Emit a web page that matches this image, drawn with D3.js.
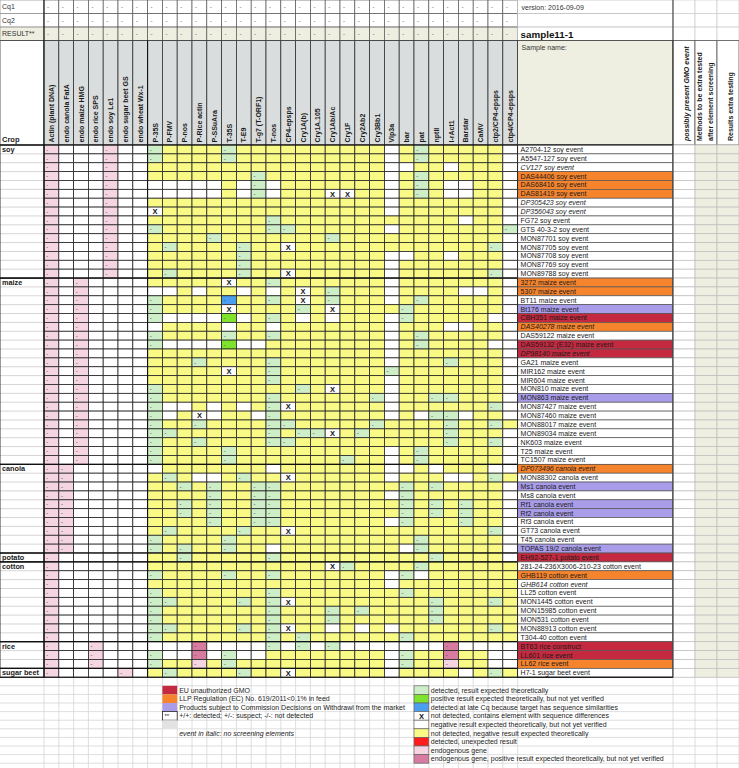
<!DOCTYPE html>
<html><head><meta charset="utf-8">
<script src="https://cdn.jsdelivr.net/npm/d3@7"></script>
<style>body{margin:0;background:#fff}svg{display:block;font-family:"Liberation Sans",Arial,sans-serif}</style>
</head><body><svg id="c" width="739" height="768"></svg>
<script>
// ---------- DATA ----------
const columns = ["Actin (plant DNA)","endo canola FatA","endo maize HMG","endo rice SPS","endo soy Le1","endo sugar beet GS","endo wheat Wx-1",
 "P-35S","P-FMV","P-nos","P-Rice actin","P-SSuAra","T-35S","T-E9","T-g7 (T-ORF1)","T-nos","CP4-epsps","Cry1A(b)","Cry1A.105","Cry1Ab/Ac","Cry1F","Cry2Ab2","Cry3Bb1","Vip3a","bar","pat","nptII","I-rAct1","Barstar","CaMV","ctp2/CP4-epsps","ctp4/CP4-epsps"];
const headerRows = ["Cq1","Cq2","RESULT**"];
const cropNames = ["soy","maize","canola","potato","cotton","rice","sugar beet"];
const cropCounts = [15,21,10,1,9,3,1];
const endoPattern = ["P...P..","P.P....","PP.....","P......","P......","P..P...","P....P."];
const events = [
 "A2704-12 soy event","A5547-127 soy event","CV127 soy event","DAS44406 soy event","DAS68416 soy event","DAS81419 soy event","DP305423 soy event","DP356043 soy event","FG72 soy event","GTS 40-3-2 soy event","MON87701 soy event","MON87705 soy event","MON87708 soy event","MON87769 soy event","MON89788 soy event",
 "3272 maize event","5307 maize event","BT11 maize event","Bt176 maize event","CBH351 maize event","DAS40278 maize event","DAS59122 maize event","DAS59132 (E32) maize event","DP98140 maize event","GA21 maize event","MIR162 maize event","MIR604 maize event","MON810 maize event","MON863 maize event","MON87427 maize event","MON87460 maize event","MON88017 maize event","MON89034 maize event","NK603 maize event","T25 maize event","TC1507 maize event",
 "DP073496 canola event","MON88302 canola event","Ms1 canola event","Ms8 canola event","Rf1 canola event","Rf2 canola event","Rf3 canola event","GT73 canola event","T45 canola event","TOPAS 19/2 canola event",
 "EH92-527-1 potato event",
 "281-24-236X3006-210-23 cotton event","GHB119 cotton event","GHB614 cotton event","LL25 cotton event","MON1445 cotton event","MON15985 cotton event","MON531 cotton event","MON88913 cotton event","T304-40 cotton event",
 "BT63 rice construct","LL601 rice event","LL62 rice event",
 "H7-1 sugar beet event"];
// screening results for columns P-35S .. ctp4/CP4-epsps
// Y not detected/neg expected, G detected expected, . neg not verified, X seq differences, B late Cq, L pos not verified, P endogenous, D endogenous not verified
const screening = [
 "GYYYYGYYYYYYYYYY.YGYYYYY.","GYYYYGYYYYYYYYYY.YGYYYYY.","YYYYYYYYYYYYYYYY..YY.YYY.","YYYYYYYGYYYYYYYY.YGYYYYY.",
 ".....Y.G.YYYYYYY.YGY..YY.",".....Y.G.YYYXXYY.YGY..YY.","YYYYYYYYYYYYYYYY.YYYYYYY.","XYYYYYYYYYYYYYYY.YYYYYYY.",
 "YYYYYYYYGYYYYYYYYYYYY.YY.","GYYYYYYYGGYYYYYY.YYYYYYYG","YYYYGYYYYYYYGYYYYYYYYYYY.","YGYYYYGYYXYYYYYYYYYYYYYG.",
 "YYYYYYGYYYYYYYYY..YY.YYY.","YYYYYYGYYYYYYYYY.YYYYYYY.","YGYYYYGYYXYYYYYY.YYYYYYG.",
 "YYYYYXYYGYYYYYYY.YYYYYYY.","..Y.YY.Y.YXYGYYY.YYYY..Y.","GYYYYBYYGYXYGYYY.YGYYYYY.","GYYYYXYYYYGYXYYYYGYYYYYY.",
 "G....L.YGY.Y.YYY.GYYYYY..",".YYYY.YY.YYYYYYY.YYY..YY.","GYYYYGYYGYYYYYYY.YGYYYYY.","G....L..YYYYYYYY.YGYYYY..",
 "YYYYYYYYYYYYYYYY.YYYYYYY.","YYYGYYYYGYYYYYYY.YYYGYYY.","YYYYYXYYGYYYYYYYGYYYYYYY.","YYYYYYYYGYYYYYYY.YYYYYYY.",
 "GYYYYYYYYYGYXYYY.YYYYYYY.","GYYYYYYYGYYYYYYG.YYGGYYY.","G..Y.Y.YGXYYYYYY.YYYYYYG.","G.YX.YY.GYYYYYYY.Y.GG.YY.",
 "GYYGYYYYGGYYYYYGYYYYGYYGY","GGYYYYYYGYGGXYGYYYYYGYYY.","GYYGYYYYGGYYYYYYYYYYGYYG.","GYYYYGYYYYYYYYYY.YGYYYYY.",
 "GYYYYGYYYYYYYGYY.YGYYYYY.",
 ".YYYYYYY.YYYYYYY..Y.YYY..","YGY..YGYYXYYYYYY.YYY..YGY","YYGYGYYGGYYYYYYYYGYGYYYY.","YYYYGYYGGYYYYYYY.GYYYYYY.",
 "YYGYGYYGGYYYYYYYYGYGYGYY.","YYGYGYYGGYYYYYYYYGYGYGYY.","YYYYGYYGGYYYYYYY.GYYYGYY.","YGYYYYGYYXYYYYYYYYYYYYYG.",
 "GYYYYGYYYYYYYYYYYYGYYYYY.","GYGYYGYY.YYYYYYYY.GYYYYY.",
 "YYGYYYYYGYYYYYYYYYYGYYYY.",
 "YYYYYYYYYYYYXGYYYYGYYYYYY","GYYYYGYYGYYYYYYY.G.YYYYYY","YYYYYYYYYYYYYYYY.YYYYYYYY","GYYYYYYYGYYYYYYYYGYYYYYYY",
 "GGYYYYGYGXYYYYYYYYYGYYYGY","GYYYYYYYGYYYGYGYYYYGYYYYY","GYYYYYYYGYYYGYYYYYYGYYYYY","GGYYYYGYGXYY.Y.Y.YYYYYYGY",
 "GYYYYYYYGYGYYYYYYGYYYYYYY",
 "...D....G.G.G.......D....","G..D.G..YYYYYYYY.GYYDYY..","GYYPYGYYYYYYYYYY.GYYPYY..",
 "YGYYYYGYYXYYYYYY.YYYY.YGY"];
const euUnauthorized = ["CBH351 maize event","DAS59132 (E32) maize event","DP98140 maize event","EH92-527-1 potato event","BT63 rice construct","LL601 rice event"];
const llpEvents = ["DAS44406 soy event","DAS68416 soy event","DAS81419 soy event","3272 maize event","5307 maize event","DAS40278 maize event","DP073496 canola event","GHB119 cotton event","LL62 rice event"];
const withdrawnEvents = ["Bt176 maize event","MON863 maize event","Ms1 canola event","Rf1 canola event","Rf2 canola event","TOPAS 19/2 canola event"];
const italicEvents = ["CV127 soy event","DP305423 soy event","DP356043 soy event","DAS40278 maize event","DP98140 maize event","DP073496 canola event","GHB614 cotton event"];
const extraCols = ["possibly present GMO event","Methods  to be extra tested|after element screening","Results extra testing"];
const leftLegendLabels = ["EU unauthorized GMO","LLP Regulation (EC) No. 619/2011<0.1% in feed","Products subject to Commission Decisions on Withdrawl from the market","+/+: detected; +/-: suspect; -/-: not detected",""];
const leftLegendKeys = ["EU","LLP","WD","STAR","GRAY"];
const rightLegendLabels = ["detected, result expected theoretically","positive result expected theoretically, but not yet verified","detected at late Cq because target has sequence similarities","not detected, contains element with sequence differences","negative result expected theoretically, but not yet verified","not detected, negative result expected theoretically","detected, unexpected result","endogenous gene","endogenous gene, positive result expected theoretically, but not yet verified"];
const rightLegendKeys = ["G","L","B","X",".","Y","R","P","D"];

// ---------- STYLE ----------
const fills = {Y:"#f9f985",G:"#cdeec6",".":"#ffffff",X:"#ffffff",B:"#4a9ff0",L:"#7fe22c",P:"#f6d5e3",D:"#d87ba0",R:"#ff1c1c",
  EU:"#c5293f",LLP:"#f6842d",WD:"#a99dea",STAR:"#ffffff",GRAY:"#e2e2e2"};
const FONT = 7, INK = "#1a1a1a";

const svg = d3.select("#c");
const W = 739, H = 768;
const tableLeft = 44, tableRight = 517.6, eventRight = 673;
const x = d3.scaleBand().domain(columns).range([tableLeft, tableRight]);
const y = d3.scaleBand().domain(events).range([145, 677.2]);
const yh = d3.scaleBand().domain(headerRows).range([0, 40.6]);
const xe = d3.scaleBand().domain(extraCols).range([eventRight, W]);
const cw = x.bandwidth(), rh = y.bandwidth();
const tableBottom = 677.2, subRow = 8.6;

// ---------- background spreadsheet grid ----------
const gridG = svg.append("g").attr("stroke","#d6d6d6").attr("stroke-width",0.8);
const nSub = Math.ceil((H - tableBottom) / subRow);
gridG.selectAll("line.h").data(d3.range(nSub+1)).join("line")
  .attr("x1",0).attr("x2",W).attr("y1",k=>tableBottom+k*subRow).attr("y2",k=>tableBottom+k*subRow);
const vBounds = [tableLeft, ...columns.map(c=>x(c)+cw), eventRight, ...extraCols.map(c=>xe(c)+xe.bandwidth())];
gridG.selectAll("line.v").data(vBounds).join("line")
  .attr("x1",d=>d).attr("x2",d=>d).attr("y1",tableBottom).attr("y2",H);

// ---------- header rows (Cq1, Cq2, RESULT) ----------
const hr = svg.append("g");
headerRows.forEach((r,ri)=>{
  const bg = ri===2 ? "#efefe1" : "#ffffff";
  hr.append("rect").attr("x",0).attr("y",yh(r)).attr("width",tableLeft).attr("height",yh.bandwidth())
    .attr("fill",bg).attr("stroke","#888").attr("stroke-width",0.7);
  hr.append("text").attr("x",2).attr("y",yh(r)+yh.bandwidth()/2+2.5).attr("font-size",FONT).attr("fill","#333").text(r);
  hr.selectAll(null).data(columns).join("rect")
    .attr("x",c=>x(c)).attr("y",yh(r)).attr("width",cw).attr("height",yh.bandwidth())
    .attr("fill",bg).attr("stroke","#555").attr("stroke-width",0.7);
  hr.selectAll(null).data(columns).join("text")
    .attr("x",c=>x(c)+3).attr("y",yh(r)+yh.bandwidth()/2+2.5).attr("font-size",6).attr("fill","#444").text("-");
  hr.append("rect").attr("x",tableRight).attr("y",yh(r)).attr("width",eventRight-tableRight).attr("height",yh.bandwidth())
    .attr("fill","#fff").attr("stroke","#bbb").attr("stroke-width",0.7);
  hr.selectAll(null).data(extraCols).join("rect")
    .attr("x",c=>xe(c)).attr("y",yh(r)).attr("width",xe.bandwidth()).attr("height",yh.bandwidth())
    .attr("fill","#fff").attr("stroke","#ccc").attr("stroke-width",0.7);
});
hr.append("text").attr("x",tableRight+4).attr("y",yh("Cq1")+9.5).attr("font-size",FONT).attr("fill","#333").text("version: 2016-09-09");
hr.append("text").attr("x",tableRight+3).attr("y",yh("RESULT**")+10.5).attr("font-size",9.8).attr("font-weight","bold").attr("fill","#111").text("sample11-1");

// ---------- column header block ----------
const hb = svg.append("g");
const hTop = 40.6, hBot = 145;
hb.append("rect").attr("x",0).attr("y",hTop).attr("width",tableLeft).attr("height",hBot-hTop).attr("fill","#fff").attr("stroke","#333").attr("stroke-width",0.8);
hb.append("text").attr("x",2).attr("y",hBot-3).attr("font-size",7.5).attr("font-weight","bold").attr("fill",INK).text("Crop");
hb.selectAll("rect.col").data(columns).join("rect")
  .attr("x",c=>x(c)).attr("y",hTop).attr("width",cw).attr("height",hBot-hTop)
  .attr("fill","#dadddd").attr("stroke","#333").attr("stroke-width",0.8);
hb.selectAll("text.col").data(columns).join("text")
  .attr("transform",c=>`translate(${x(c)+cw/2+2.6},${hBot-2.5}) rotate(-90)`)
  .attr("font-size",FONT).attr("font-weight","bold").attr("fill",INK).text(c=>c);
hb.append("rect").attr("x",tableRight).attr("y",hTop).attr("width",eventRight-tableRight).attr("height",hBot-hTop)
  .attr("fill","#efefe1").attr("stroke","#333").attr("stroke-width",0.8);
hb.append("text").attr("x",tableRight+4).attr("y",hTop+9).attr("font-size",FONT).attr("fill","#333").text("Sample name:");
hb.selectAll("rect.ex").data(extraCols).join("rect")
  .attr("x",c=>xe(c)).attr("y",hTop).attr("width",xe.bandwidth()).attr("height",hBot-hTop)
  .attr("fill","#fff").attr("stroke","#555").attr("stroke-width",0.8);
extraCols.forEach((c,i)=>{
  const lines = c.split("|");
  lines.forEach((ln,li)=>{
    const bx = lines.length===1 ? xe(c)+xe.bandwidth()/2+5 : xe(c)+7+li*10.5;
    hb.append("text").attr("transform",`translate(${bx},${hBot-4}) rotate(-90)`)
      .attr("font-size",FONT).attr("font-weight","bold").attr("font-style",i===0?"italic":"normal")
      .attr("fill",INK).text(ln);
  });
});

// ---------- data cells ----------
const cropOf = [];
cropNames.forEach((c,i)=>{ for(let k=0;k<cropCounts[i];k++) cropOf.push(i); });
const cells = [];
events.forEach((e,ri)=>{
  const codes = endoPattern[cropOf[ri]] + screening[ri];
  columns.forEach((c,ci)=>cells.push({e, c, code: codes[ci]}));
});
const cg = svg.append("g");
cg.selectAll("rect").data(cells).join("rect")
  .attr("x",d=>x(d.c)).attr("y",d=>y(d.e)).attr("width",cw).attr("height",rh)
  .attr("fill",d=>fills[d.code]).attr("stroke","#262626").attr("stroke-width",0.8);
cg.selectAll("text.dash").data(cells.filter(d=>"GBLPD".includes(d.code))).join("text")
  .attr("x",d=>x(d.c)+2.2).attr("y",d=>y(d.e)+rh/2+2.2).attr("font-size",6).attr("fill","#333").text("-");
cg.selectAll("text.x").data(cells.filter(d=>d.code==="X")).join("text")
  .attr("x",d=>x(d.c)+cw/2).attr("y",d=>y(d.e)+rh/2+2.8).attr("text-anchor","middle")
  .attr("font-size",7.5).attr("font-weight","bold").attr("fill","#111").text("X");

// ---------- crop column ----------
const crg = svg.append("g");
let start = 0;
cropNames.forEach((c,i)=>{
  const first = events[start], last = events[start+cropCounts[i]-1];
  const top = y(first), bot = y(last)+rh;
  crg.selectAll(null).data(events.slice(start+1,start+cropCounts[i])).join("line")
    .attr("x1",0).attr("x2",tableLeft).attr("y1",e=>y(e)).attr("y2",e=>y(e)).attr("stroke","#c4c4c4").attr("stroke-width",0.7);
  crg.append("rect").attr("x",0).attr("y",top).attr("width",tableLeft).attr("height",bot-top)
    .attr("fill","none").attr("stroke","#222").attr("stroke-width",0.9);
  crg.append("text").attr("x",2).attr("y",top+rh/2+2.6).attr("font-size",7.3).attr("font-weight","bold").attr("fill",INK).text(c);
  crg.append("line").attr("x1",0).attr("x2",eventRight).attr("y1",top).attr("y2",top).attr("stroke","#111").attr("stroke-width",1.2);
  start += cropCounts[i];
});

// ---------- event name column ----------
const evFill = e => euUnauthorized.includes(e) ? fills.EU : llpEvents.includes(e) ? fills.LLP : withdrawnEvents.includes(e) ? fills.WD : "#fff";
const eg = svg.append("g");
eg.selectAll("rect").data(events).join("rect")
  .attr("x",tableRight).attr("y",e=>y(e)).attr("width",eventRight-tableRight).attr("height",rh)
  .attr("fill",evFill).attr("stroke","#555").attr("stroke-width",0.7);
eg.selectAll("text").data(events).join("text")
  .attr("x",tableRight+3).attr("y",e=>y(e)+rh/2+2.5).attr("font-size",FONT)
  .attr("font-style",e=>italicEvents.includes(e)?"italic":"normal").attr("fill",INK).text(e=>e);
eg.append("rect").attr("x",tableRight).attr("y",145).attr("width",eventRight-tableRight).attr("height",tableBottom-145)
  .attr("fill","none").attr("stroke","#222").attr("stroke-width",0.9);

// ---------- extra columns ----------
const xg = svg.append("g");
extraCols.forEach((c,i)=>{
  xg.selectAll(null).data(events).join("rect")
    .attr("x",xe(c)).attr("y",e=>y(e)).attr("width",xe.bandwidth()).attr("height",rh)
    .attr("fill",i===0?"#fff":"#efefe1").attr("stroke","#bdbdbd").attr("stroke-width",0.7);
});
xg.append("line").attr("x1",eventRight).attr("x2",eventRight).attr("y1",0).attr("y2",tableBottom).attr("stroke","#222").attr("stroke-width",0.9);
// table frame lines
svg.append("line").attr("x1",0).attr("x2",eventRight).attr("y1",tableBottom).attr("y2",tableBottom).attr("stroke","#111").attr("stroke-width",1.1);
svg.append("line").attr("x1",tableLeft).attr("x2",tableLeft).attr("y1",0).attr("y2",tableBottom).attr("stroke","#111").attr("stroke-width",1);
svg.append("line").attr("x1",x(columns[7])).attr("x2",x(columns[7])).attr("y1",hTop).attr("y2",tableBottom).attr("stroke","#111").attr("stroke-width",1.1);

// ---------- legends ----------
const lg = svg.append("g");
const legRow = k => tableBottom + k*subRow;
const lx = x(columns[8]);
leftLegendKeys.forEach((k,i)=>{
  const ty = legRow(i+1);
  lg.append("rect").attr("x",lx).attr("y",ty).attr("width",cw).attr("height",subRow)
    .attr("fill",fills[k]).attr("stroke",k==="STAR"?"#222":"none").attr("stroke-width",0.8);
  if(k==="STAR") lg.append("text").attr("x",lx+2).attr("y",ty+6).attr("font-size",6).attr("fill","#222").text("**");
  lg.append("text").attr("x",lx+cw+2).attr("y",ty+subRow/2+2.5).attr("font-size",FONT).attr("fill","#222").text(leftLegendLabels[i]);
});
lg.append("text").attr("x",lx+cw+2).attr("y",legRow(6)+subRow/2+3).attr("font-size",FONT).attr("font-style","italic").attr("fill","#222")
  .text("event in italic: no screening elements");
const rx = x(columns[25]);
rightLegendKeys.forEach((k,i)=>{
  const ty = legRow(i+1);
  lg.append("rect").attr("x",rx).attr("y",ty).attr("width",cw).attr("height",subRow)
    .attr("fill",fills[k]).attr("stroke","#666").attr("stroke-width",0.7);
  if(k==="X") lg.append("text").attr("x",rx+cw/2).attr("y",ty+subRow/2+2.8).attr("text-anchor","middle").attr("font-size",7.5).attr("font-weight","bold").attr("fill","#111").text("X");
  lg.append("text").attr("x",rx+cw+2).attr("y",ty+subRow/2+2.5).attr("font-size",FONT).attr("fill","#222").text(rightLegendLabels[i]);
});
</script></body></html>
